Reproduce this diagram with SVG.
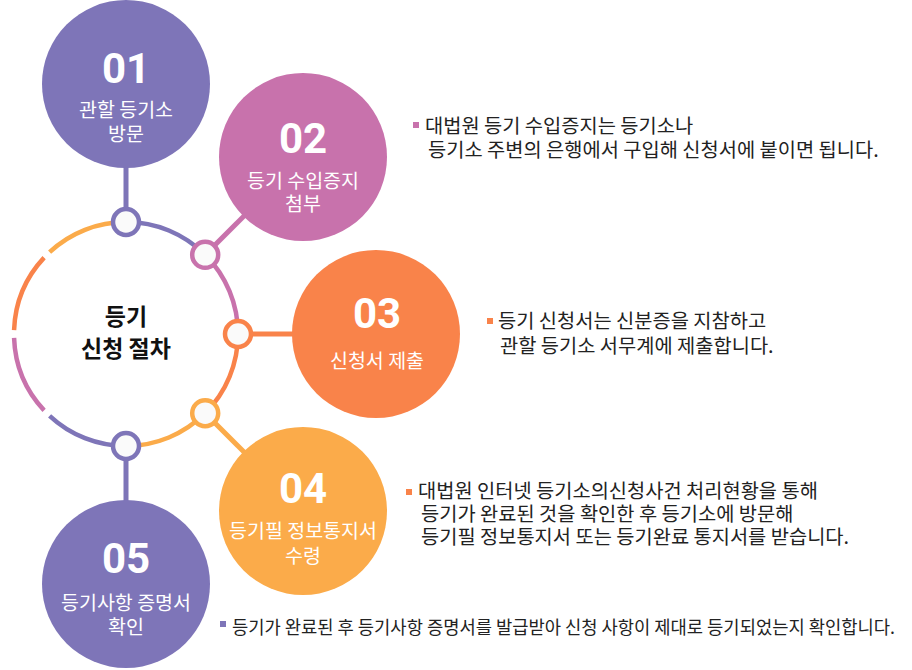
<svg xmlns="http://www.w3.org/2000/svg" width="912" height="670" viewBox="0 0 912 670">
<style>
.num{font-family:Roboto,"Liberation Sans",sans-serif;font-weight:bold;font-size:42px;fill:#fff;text-anchor:middle}
.lbl{font-family:"Noto Sans CJK KR",sans-serif;font-size:19.5px;fill:#fff;text-anchor:middle}
.ttl{font-family:"Noto Sans CJK KR",sans-serif;font-size:23px;font-weight:bold;fill:#111;text-anchor:middle}
.desc{font-family:"Noto Sans CJK KR",sans-serif;font-size:19.8px;fill:#222}
.ring{fill:none;stroke-width:4.5}
.con{stroke-width:5;fill:none}
.dot{fill:#fafafa;stroke-width:4.5}
</style>
<rect width="912" height="670" fill="#fff"/>
<g id="connectors">
<path class="ring" stroke="#7e75b8" d="M126,222 A112,112 0 0 1 205.2,254.8"/>
<path class="ring" stroke="#c872ac" d="M205.2,254.8 A112,112 0 0 1 238,334"/>
<path class="ring" stroke="#f9834a" d="M238,334 A112,112 0 0 1 205.2,413.2"/>
<path class="ring" stroke="#fbab4a" d="M205.2,413.2 A112,112 0 0 1 126,446"/>
<path class="ring" stroke="#7e75b8" d="M126,446 A112,112 0 0 1 49.6,415.9"/>
<path class="ring" stroke="#c872ac" d="M44.1,410.4 A112,112 0 0 1 14.07,337.9"/>
<path class="ring" stroke="#f9834a" d="M14.07,330.1 A112,112 0 0 1 44.1,257.6"/>
<path class="ring" stroke="#fbab4a" d="M49.6,252.1 A112,112 0 0 1 126,222"/>
<line class="con" stroke="#7e75b8" x1="126" y1="222" x2="126" y2="84"/>
<line class="con" stroke="#c872ac" x1="205.2" y1="254.8" x2="303" y2="157"/>
<line class="con" stroke="#f9834a" x1="238" y1="334" x2="376" y2="334"/>
<line class="con" stroke="#fbab4a" x1="205.2" y1="413.2" x2="303" y2="511"/>
<line class="con" stroke="#7e75b8" x1="126" y1="446" x2="126" y2="584"/>
<circle class="dot" stroke="#7e75b8" cx="126" cy="222" r="13"/>
<circle class="dot" stroke="#c872ac" cx="205.2" cy="254.8" r="13"/>
<circle class="dot" stroke="#f9834a" cx="238" cy="334" r="13"/>
<circle class="dot" stroke="#fbab4a" cx="205.2" cy="413.2" r="13"/>
<circle class="dot" stroke="#7e75b8" cx="126" cy="446" r="13"/>
</g>
<g id="center">
<text class="ttl" x="126" y="325">등기</text>
<text class="ttl" x="126" y="357">신청 절차</text>
</g>
<g id="step01">
<circle cx="126" cy="84" r="84" fill="#7e75b8"/>
<text class="num" x="126" y="83">01</text>
<text class="lbl" x="126" y="117">관할 등기소</text>
<text class="lbl" x="126" y="141">방문</text>
</g>
<g id="step02">
<circle cx="303" cy="157" r="84" fill="#c872ac"/>
<text class="num" x="303" y="153">02</text>
<text class="lbl" x="303" y="188">등기 수입증지</text>
<text class="lbl" x="303" y="211">첨부</text>
<rect x="413" y="122" width="6" height="6" fill="#c872ac"/>
<text class="desc" x="425" y="133">대법원 등기 수입증지는 등기소나</text>
<text class="desc" x="428" y="157">등기소 주변의 은행에서 구입해 신청서에 붙이면 됩니다.</text>
</g>
<g id="step03">
<circle cx="376" cy="334" r="84" fill="#f9834a"/>
<text class="num" x="377" y="328">03</text>
<text class="lbl" x="377" y="368">신청서 제출</text>
<rect x="487" y="318" width="6" height="6" fill="#f9834a"/>
<text class="desc" x="498" y="328">등기 신청서는 신분증을 지참하고</text>
<text class="desc" x="500" y="353">관할 등기소 서무계에 제출합니다.</text>
</g>
<g id="step04">
<circle cx="303" cy="511" r="84" fill="#fbab4a"/>
<text class="num" x="303" y="503">04</text>
<text class="lbl" x="303" y="538">등기필 정보통지서</text>
<text class="lbl" x="303" y="563">수령</text>
<rect x="406" y="489" width="6" height="6" fill="#f9834a"/>
<text class="desc" x="418" y="498">대법원 인터넷 등기소의신청사건 처리현황을 통해</text>
<text class="desc" x="421" y="521">등기가 완료된 것을 확인한 후 등기소에 방문해</text>
<text class="desc" x="421" y="544">등기필 정보통지서 또는 등기완료 통지서를 받습니다.</text>
</g>
<g id="step05">
<circle cx="126" cy="584" r="84" fill="#7e75b8"/>
<text class="num" x="126" y="573">05</text>
<text class="lbl" x="126" y="610">등기사항 증명서</text>
<text class="lbl" x="126" y="634">확인</text>
<rect x="220" y="621" width="6" height="6" fill="#7e75b8"/>
<text class="desc" style="font-size:17.8px" x="232" y="634" textLength="663" lengthAdjust="spacingAndGlyphs">등기가 완료된 후 등기사항 증명서를 발급받아 신청 사항이 제대로 등기되었는지 확인합니다.</text>
</g>
</svg>
